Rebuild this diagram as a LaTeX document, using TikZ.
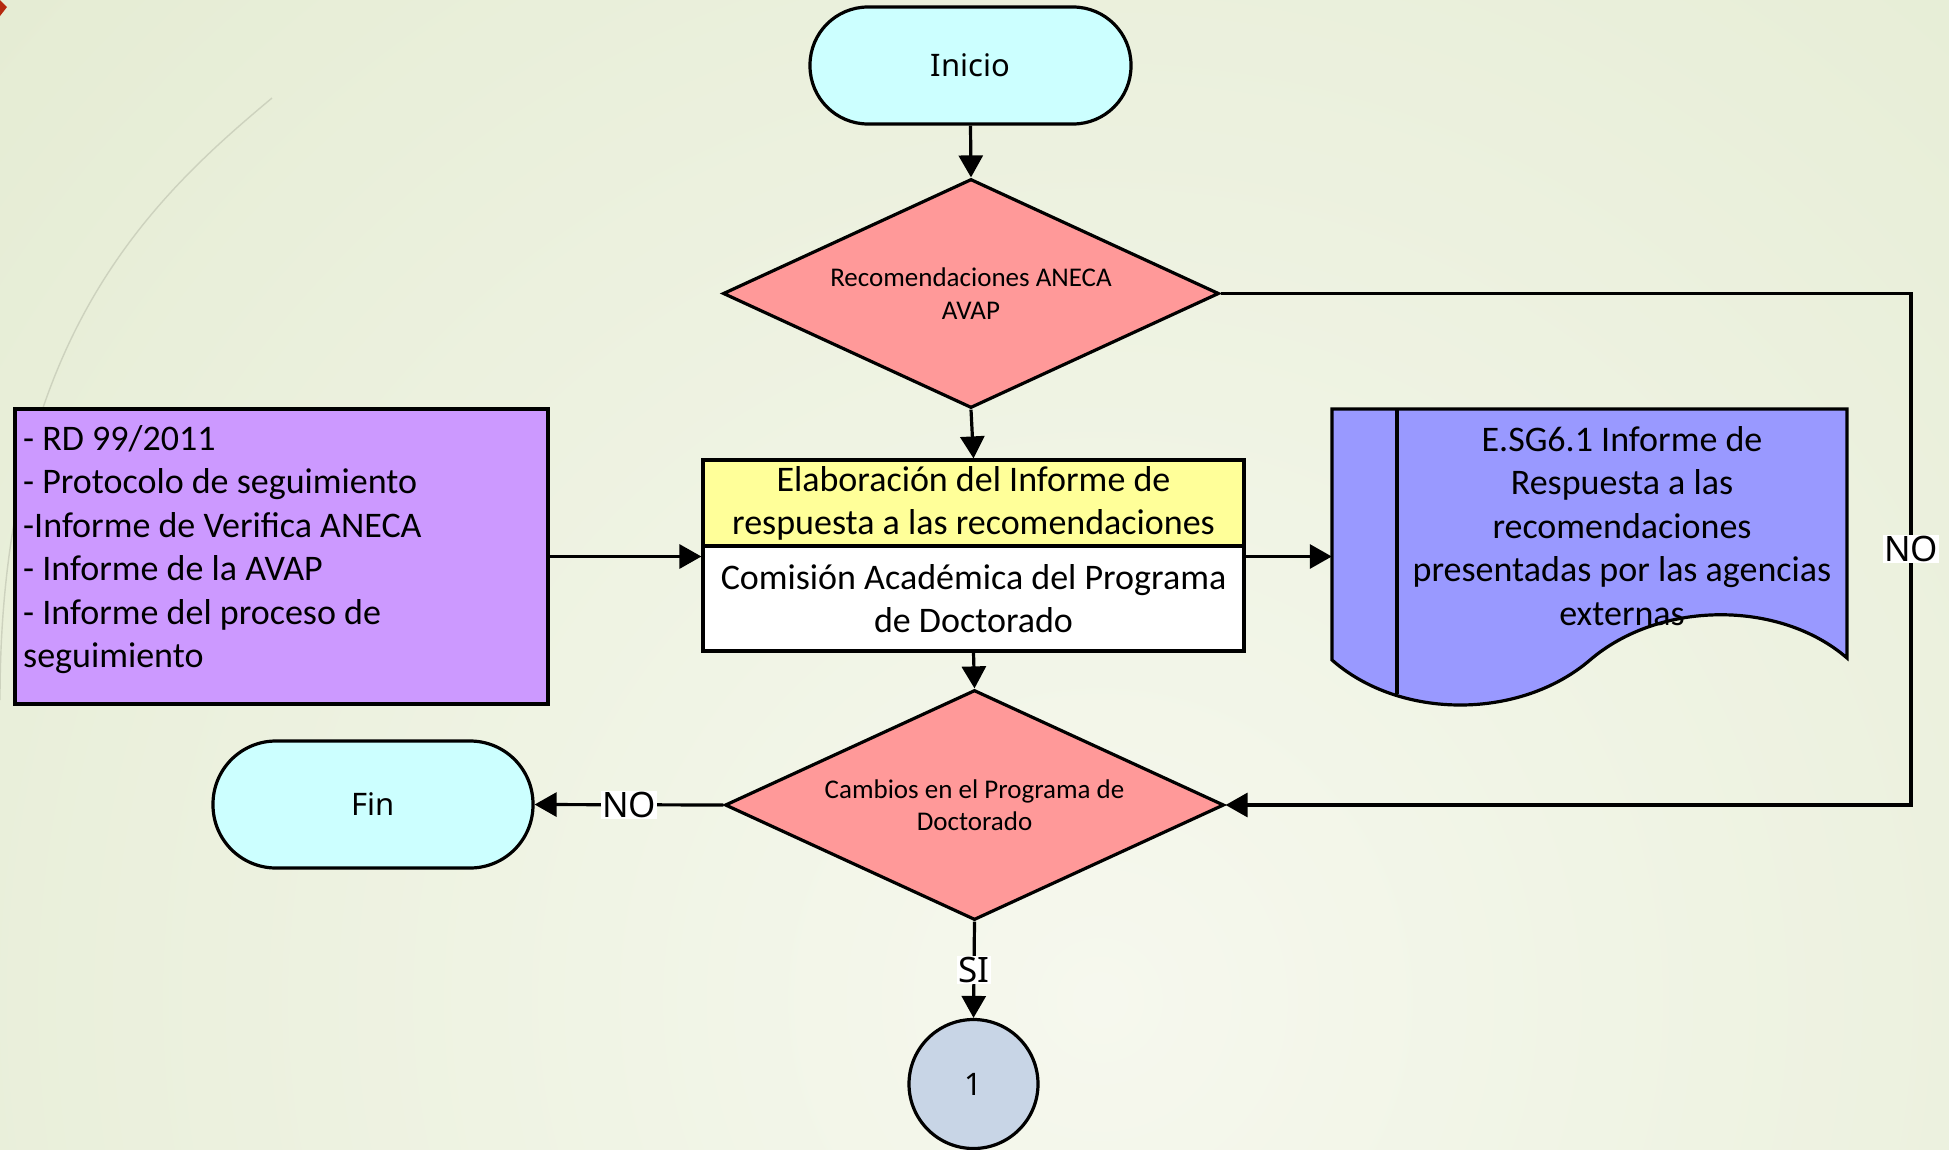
\documentclass[tikz,border=0pt]{standalone}
\usepackage{fontspec}
\setmainfont{Carlito}
\newfontfamily\segoe{Noto Sans}
\usetikzlibrary{shapes.geometric,arrows.meta}
\definecolor{cyanfill}{HTML}{CCFFFF}
\definecolor{pinkfill}{HTML}{FF9999}
\definecolor{yellowfill}{HTML}{FFFF99}
\definecolor{purplefill}{HTML}{CC99FF}
\definecolor{docfill}{HTML}{9999FF}
\definecolor{circfill}{HTML}{C8D5E6}
\definecolor{bgIn}{HTML}{F6F8EE}
\definecolor{bgOut}{HTML}{E2EACF}
\definecolor{arcgray}{HTML}{CDD2BE}
\definecolor{redmark}{HTML}{B5290F}
\begin{document}
\begin{tikzpicture}[x=1pt,y=-1pt,
  term/.style={draw, fill=cyanfill, rectangle, line width=3.2pt, font=\segoe\fontsize{31}{37}\selectfont},
  dec/.style={draw, fill=pinkfill, diamond, aspect=2.17, line width=3.2pt, inner sep=0pt, minimum width=496pt, minimum height=229pt, align=center, font=\fontsize{27}{32.5}\selectfont},
  boxstyle/.style={draw, rectangle, line width=3.2pt, inner sep=0pt, align=center, font=\fontsize{36}{43}\selectfont},
  txt/.style={inner sep=0pt, font=\fontsize{36}{43.5}\selectfont},
  arr/.style={line width=3.2pt, -{Triangle[length=22pt,width=24pt]}},
  lbl/.style={fill=white, inner sep=1pt, font=\segoe\fontsize{35}{40}\selectfont},
]
\useasboundingbox (0,0) rectangle (1949,1149);
% background
\begin{scope}
\clip (0,0) rectangle (1949,1149);
\shade[inner color=bgIn, outer color=bgOut] (1100,1000) circle (1750);
\draw[arcgray, line width=1.4pt] (272,98) .. controls (150,200) and (0,340) .. (0,700);
\fill[redmark] (0,0) -- (7,7) -- (0,16) -- cycle;
\end{scope}

% nodes
\node[term, minimum width=321pt, minimum height=117pt, rounded corners=58pt] (inicio) at (970.5,65.5) {Inicio};
\node[dec] (d1) at (971,293.5) {Recomendaciones ANECA\\AVAP};
\node[boxstyle, fill=yellowfill, minimum width=541pt, minimum height=86pt] (ptop) at (973.5,503) {Elaboración del Informe de\\respuesta a las recomendaciones};
\node[boxstyle, fill=white, minimum width=541pt, minimum height=105pt] (pbot) at (973.5,598.5) {Comisión Académica del Programa\\de Doctorado};
\node[draw, fill=purplefill, line width=3.2pt, minimum width=533pt, minimum height=295pt, inner sep=0pt] (purple) at (281.5,556.5) {};
\node[txt, anchor=north west, align=left] (purpletext) at (23,425) {- RD 99/2011\\- Protocolo de seguimiento\\-Informe de Verifica ANECA\\- Informe de la AVAP\\- Informe del proceso de\\seguimiento};

% document shape
\draw[fill=docfill, line width=3.2pt] (1332,409) -- (1847,409) -- (1847,658)
  .. controls (1780,600) and (1660,600) .. (1590,660)
  .. controls (1520,720) and (1400,720) .. (1332,660) -- cycle;
\draw[line width=3.2pt] (1397,409) -- (1397,694);
\node[minimum width=515pt, minimum height=251pt, inner sep=0pt] (doc) at (1589.5,534.5) {};
\node[txt, align=center] (doctext) at (1622,526) {E.SG6.1 Informe de\\Respuesta a las\\recomendaciones\\presentadas por las agencias\\externas};

\node[dec, minimum width=499pt, minimum height=230pt] (d2) at (974.5,805) {Cambios en el Programa de\\Doctorado};
\node[term, minimum width=320pt, minimum height=127pt, rounded corners=63pt] (fin) at (373,804.5) {Fin};
\node[draw, circle, fill=circfill, line width=3.2pt, minimum size=129pt, inner sep=0pt, font=\segoe\fontsize{31}{37}\selectfont] (one) at (973.5,1084) {1};
\coordinate (rc) at (1911,0);

% connectors
\draw[arr] (inicio.south) -- (d1.north);
\draw[arr] (d1.south) -- (ptop.north);
\draw[arr] (pbot.south) -- (d2.north);
\draw[arr] (purple.east) -- (purple.east -| pbot.west);
\draw[arr] (purple.east -| pbot.east) -- (purple.east -| doc.west);
\draw[arr] (d1.east) -- (d1.east -| rc) -- node[lbl] (nor) {NO} (d2.east -| rc) -- (d2.east);
\draw[arr] (d2.west) -- node[lbl] (nol) {NO} (fin.east);
\draw[arr] (d2.south) -- node[lbl] (si) {SI} (one.north);
\end{tikzpicture}
\end{document}
